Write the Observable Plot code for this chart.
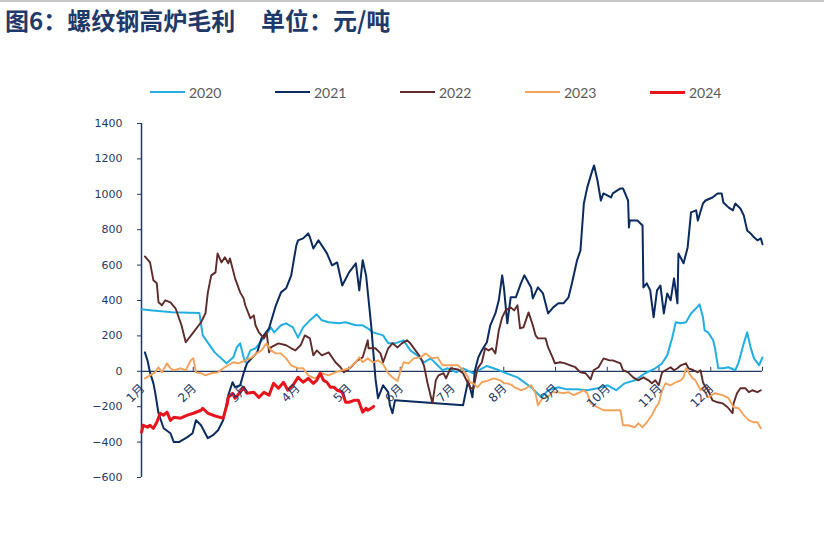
<!DOCTYPE html>
<html><head><meta charset="utf-8">
<script src="https://cdn.jsdelivr.net/npm/d3@7"></script>
<script src="https://cdn.jsdelivr.net/npm/@observablehq/plot@0.6"></script>
<style>
body{margin:0;background:#fff;width:824px;height:558px;position:relative;overflow:hidden;}
#topline{position:absolute;left:0;top:0;width:824px;height:2px;background:#c8c8c8;}
#title{position:absolute;left:5px;top:3px;font-family:"Noto Sans CJK SC";font-weight:bold;font-size:24px;color:#1F3A68;white-space:nowrap;line-height:34px;}
#title span.u{position:absolute;left:256px;}
.item{position:absolute;top:82px;height:20px;display:flex;align-items:center;font-family:Lato;font-size:14px;color:#595959;}
.sw{width:35px;margin-right:4px;}
#chart{position:absolute;left:0;top:100px;}
</style></head><body>
<div id="topline"></div>
<div id="title"><span>图6：螺纹钢高炉毛利</span><span class="u">单位：元/吨</span></div>
<div id="legendBox"></div>
<div id="chart"></div>
<script>
const years = ["2020", "2021", "2022", "2023", "2024"];
const colors = ["#22AEE0", "#0B2A5E", "#5E2A2A", "#F2A25B", "#E8141B"];
const widths = [2, 2, 1.9, 1.9, 3];
const months = ["1月","2月","3月","4月","5月","6月","7月","8月","9月","10月","11月","12月"];
const yTicks = [-600,-400,-200,0,200,400,600,800,1000,1200,1400];

// [day of year, 元/吨]
const d2020 = [[0,350],[5,345],[18,333],[34,330],[36,203],[43,107],[50,45],[54,79],[56,135],[58,158],[60,79],[61,51],[64,118],[67,130],[73,203],[76,248],[78,220],[82,260],[85,271],[89,248],[92,190],[95,248],[99,288],[103,322],[106,288],[110,277],[116,271],[120,277],[126,260],[130,260],[133,243],[136,220],[142,203],[145,158],[149,158],[154,175],[158,118],[162,90],[166,51],[170,73],[174,34],[177,6],[180,17],[185,-6],[189,17],[195,-11],[203,30],[209,10],[213,-6],[221,-34],[229,-90],[235,-147],[239,-107],[245,-90],[250,-102],[256,-102],[262,-107],[268,-96],[274,-79],[279,-107],[284,-68],[290,-51],[296,-11],[302,17],[306,45],[309,90],[312,192],[314,277],[317,271],[320,277],[323,327],[326,356],[328,378],[330,305],[331,231],[333,220],[336,175],[337,135],[339,17],[342,17],[345,23],[349,6],[351,51],[354,158],[356,220],[358,135],[360,73],[363,34],[365,79]];

const d2021 = [[2,107],[3.5,62],[5,-6],[7,-68],[8,-118],[10,-237],[13,-322],[17,-350],[19,-400],[22,-400],[27,-372],[30,-350],[32,-277],[35,-305],[39,-378],[42,-361],[45,-333],[48,-277],[51,-135],[53.5,-62],[55,-90],[58,-79],[60,-11],[62,45],[68,107],[70.5,186],[75,243],[76,277],[79,373],[82,446],[85,469],[88,542],[89,600],[91,711],[92,740],[95,751],[98,779],[99,757],[101,694],[104,740],[109,666],[112,598],[115,615],[118,485],[122,559],[126,610],[128,457],[130,627],[132,542],[135,260],[137.5,-40],[139,-152],[142,-79],[145,-118],[146,-192],[147.5,-237],[149,-164],[189,-192],[192,-51],[194.5,-147],[196,6],[198,79],[200,118],[203,164],[205,260],[208,327],[210,401],[212,542],[213,474],[215,271],[217,418],[220,418],[223,497],[225,542],[229,474],[230,412],[233,474],[236,440],[239,327],[242,361],[245,384],[248,384],[251,418],[253,497],[256,627],[258,683],[260,948],[262,1039],[265,1135],[266,1163],[268,1078],[270,965],[271.5,1005],[276,982],[277,1005],[281.5,1033],[283,1033],[286,965],[286.5,813],[287,852],[291.5,852],[294.5,824],[295,474],[297,497],[299,457],[301,305],[303,457],[305,485],[307,327],[309,440],[311,401],[313,525],[315,384],[315.6,666],[318.6,610],[321,700],[323,898],[326,909],[327,852],[330,948],[331.5,965],[335.6,982],[338.6,1005],[341,1005],[342,954],[345,926],[347.6,909],[349,948],[352,920],[354,881],[356,796],[358,779],[360,757],[362,740],[364,751],[365,718]];

const d2022 = [[2,649],[5,615],[7,514],[9,497],[10,390],[12,373],[14,401],[17,390],[20,356],[23.5,260],[26,164],[30.5,220],[35,277],[37.6,327],[39,446],[41,542],[43.5,559],[44.7,666],[47,615],[49,644],[51,610],[52,638],[55,525],[58,446],[60,412],[61,373],[64,299],[66,316],[67,260],[69,220],[72,186],[73.5,220],[75,107],[76,135],[80.5,158],[85,147],[88,130],[90.5,118],[93.5,147],[96,203],[99,186],[101,90],[103,118],[106,90],[110,107],[114,51],[117,23],[119,-6],[123,23],[127,62],[130,79],[133,175],[133.4,130],[137.5,130],[140.5,101],[142,51],[145,130],[147.5,158],[150.5,135],[153,158],[156,175],[158,158],[161,118],[164,79],[166,34],[168,-62],[171,-181],[173,-50],[174.6,-23],[177.5,-11],[179,-40],[181.6,17],[186,10],[189,-11],[193,-90],[195,-100],[197.5,15],[200,50],[202,130],[204,118],[206,130],[208,101],[210,231],[212,305],[214,344],[217,361],[219,344],[221,373],[222.5,243],[224.5,248],[227.5,333],[230,260],[231.6,203],[233,186],[237.5,186],[239,135],[241.6,79],[243,45],[246,51],[249,45],[252,34],[255,23],[258,-6],[261,-11],[264,-45],[265.7,6],[268.6,23],[271.6,73],[275,62],[277,62],[281.5,45],[283,6],[286,-6],[289,-34],[292,-51],[295,-34],[298,-51],[300,-68],[302,-51],[304,-79],[306,-6],[308,6],[311,23],[313,6],[315,17],[317,34],[320,45],[321.5,17],[324.5,6],[327,-6],[328.6,6],[330,-62],[331.5,-90],[333,-107],[335.6,-164],[338.6,-175],[341.5,-181],[344.5,-203],[347.4,-237],[348,-181],[350,-124],[352,-96],[355,-96],[357,-118],[359,-107],[362,-118],[364,-107]];

const d2023 = [[2,-40],[5,-23],[8,-6],[10,23],[12,-6],[15,45],[17,17],[19,6],[23,17],[26,6],[29,62],[30.5,73],[32,-6],[35,-11],[37.6,-23],[41,-11],[45,-6],[48,17],[51,34],[54,51],[57,45],[61,62],[65,79],[67.6,101],[70.5,118],[73.5,158],[76,118],[79,101],[82,101],[85,73],[88,34],[92,17],[95,17],[98,-23],[102,-40],[106,-11],[110,-23],[114,-6],[118,6],[122,17],[126,51],[128,79],[130,51],[133,73],[136,51],[139,62],[142,40],[145,-11],[147.5,-34],[150.5,-55],[152,-6],[154,51],[157,45],[160,73],[164,79],[167,101],[170,79],[171,73],[174,79],[177,34],[180,34],[184,34],[186,34],[189,6],[190.4,-11],[192,-34],[193,-62],[195,-68],[197.5,-90],[200,-62],[204,-51],[207,-40],[211,-51],[213,-68],[215,-68],[218,-79],[219,-90],[223,-107],[226,-96],[229,-79],[231.6,-124],[233,-192],[235.7,-152],[238.6,-147],[241.6,-118],[244.5,-118],[248,-124],[251,-118],[254,-135],[258,-118],[260,-107],[262,-124],[264,-181],[268,-203],[271.6,-220],[275,-220],[281.5,-220],[283,-305],[286,-305],[290,-316],[292,-294],[294.5,-316],[297,-288],[300,-248],[302,-209],[304,-181],[306,-107],[308,-68],[311,-79],[314,-62],[317,-51],[318.6,-34],[320,17],[321.5,-6],[324,-40],[325.6,-51],[328.6,-107],[330,-90],[333,-147],[337,-124],[341.5,-135],[345,-152],[348,-203],[351,-209],[354,-248],[357,-277],[360,-288],[362,-288],[364,-322]];

const d2024 = [[0,-344],[1,-305],[3.5,-316],[5,-305],[7,-322],[9,-288],[11,-237],[13,-248],[15,-231],[17,-277],[19,-260],[23,-265],[27,-248],[30.5,-237],[35,-220],[36,-209],[39,-237],[42,-248],[46,-260],[48,-265],[50.5,-181],[51,-147],[53.5,-124],[55,-152],[58,-118],[60,-90],[62,-124],[66,-118],[69,-147],[72,-118],[75,-135],[77.6,-68],[80.5,-96],[83.5,-62],[86,-107],[89,-79],[92,-34],[95,-62],[98,-40],[101,-68],[103,-51],[105,-11],[107,-51],[109,-62],[111,-90],[113,-90],[115,-107],[118,-118],[120,-175],[122,-175],[125,-164],[127.5,-164],[130,-231],[132,-209],[133,-220],[136,-203],[136.4,-198]];

const series = [d2020, d2021, d2022, d2023, d2024];

// legend
const lb = document.getElementById("legendBox");
years.forEach((y, i) => {
  const it = document.createElement("div");
  it.className = "item";
  it.style.left = (150 + i * 125) + "px";
  it.innerHTML = `<div class="sw" style="height:${Math.max(2, widths[i])}px;background:${colors[i]}"></div><span>${y}</span>`;
  lb.appendChild(it);
});

const navy = "#1F3864";
const H = 458, mTop = 23, mBottom = 81;
const pxPerUnit = (H - mTop - mBottom) / 2000;
const tickLen = 4 / pxPerUnit;
const monthPos = d3.range(13).map(i => i * 365 / 12);

const marks = [
  Plot.ruleY([0], {stroke: navy, strokeWidth: 1.2}),
  Plot.ruleX(monthPos, {y1: 0, y2: tickLen, stroke: navy, strokeWidth: 1}),
  Plot.ruleX([0], {stroke: navy, strokeWidth: 1.5}),
  ...series.map((s, i) => Plot.line(s, {x: d => d[0], y: d => d[1], stroke: colors[i], strokeWidth: widths[i], strokeLinejoin: "round"})),
  Plot.text(months, {x: (d, i) => monthPos[i], y: 0, text: d => d, rotate: -45, textAnchor: "end", dx: 1, dy: 15, fill: navy, fontSize: 12, fontFamily: "DejaVu Sans, Noto Sans CJK SC"})
];

const chart = Plot.plot({
  width: 824, height: H,
  marginLeft: 141, marginRight: 62, marginTop: mTop, marginBottom: mBottom,
  style: {fontFamily: "DejaVu Sans", fontSize: "11px", color: navy, background: "transparent"},
  x: {domain: [0, 365], axis: null},
  y: {domain: [-600, 1400], ticks: yTicks, tickSize: 4, tickPadding: 15, label: null, tickFormat: d => String(d).replace("-", "−")},
  marks
});
document.getElementById("chart").appendChild(chart);
</script>
</body></html>
